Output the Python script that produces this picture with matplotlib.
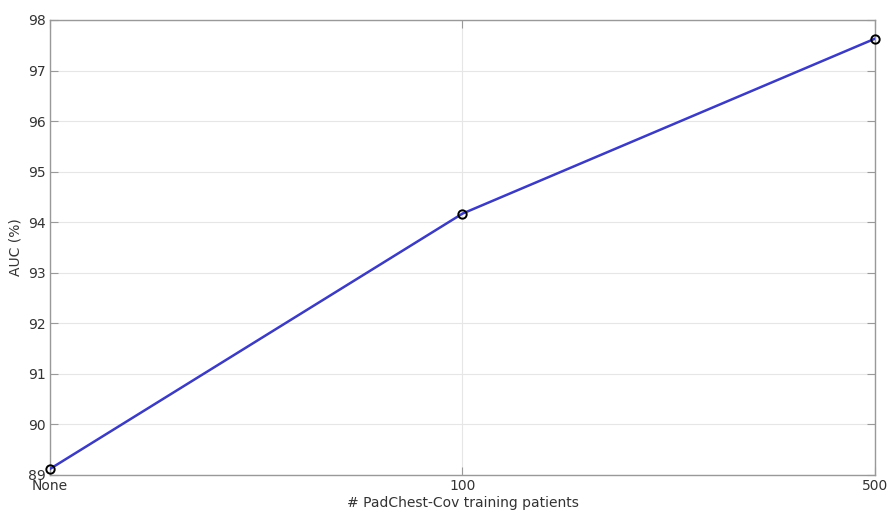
import matplotlib
matplotlib.use("Agg")
import matplotlib.pyplot as plt

# data
labels = ["None", "100", "500"]
auc = [89.12, 94.17, 97.63]
yticks = [89, 90, 91, 92, 93, 94, 95, 96, 97, 98]

fig = plt.figure(figsize=(8.91, 5.15), dpi=100)
ax = fig.add_axes([0.0561, 0.0777, 0.9259, 0.8835])

x = list(range(len(labels)))
ax.plot(x, auc, color="#3c3cbc", linewidth=1.8, zorder=3)
ax.plot(x, auc, linestyle="none", marker="o", markersize=6,
        markerfacecolor="none", markeredgecolor="black", markeredgewidth=1.4,
        zorder=4, clip_on=False)

ax.set_xlim(0, 2)
ax.set_ylim(89, 98)
ax.set_xticks(x)
ax.set_xticklabels(labels)
ax.set_yticks(yticks)

ax.grid(True, color="#e6e6e6", linewidth=0.8)
ax.set_axisbelow(True)
for s in ax.spines.values():
    s.set_color("#999999")
    s.set_linewidth(1.0)
ax.tick_params(direction="in", length=6, color="#999999", labelcolor="#333333",
               labelsize=10, right=True, top=True, pad=3)

ax.set_xlabel("# PadChest-Cov training patients", color="#333333", fontsize=10, labelpad=2)
ax.set_ylabel("AUC (%)", color="#333333", fontsize=10, labelpad=4)

fig.savefig("out.png", dpi=100)
